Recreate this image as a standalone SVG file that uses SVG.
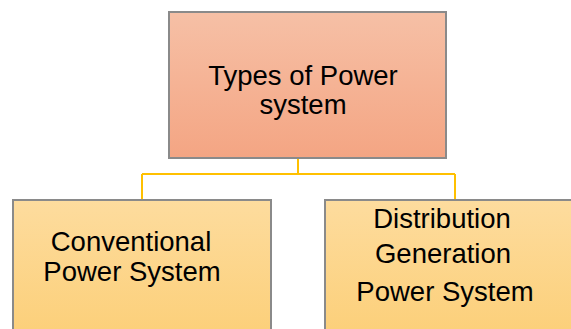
<svg xmlns="http://www.w3.org/2000/svg" width="571" height="329" viewBox="0 0 571 329">
<defs>
<linearGradient id="gTop" x1="0" y1="0" x2="0" y2="1">
<stop offset="0" stop-color="#F6C0A6"/>
<stop offset="1" stop-color="#F4A583"/>
</linearGradient>
<linearGradient id="gBot" x1="0" y1="0" x2="0" y2="1">
<stop offset="0" stop-color="#FDDC9E"/>
<stop offset="1" stop-color="#FCCF78"/>
</linearGradient>
</defs>
<style>
.box{stroke:#8a8a8a;stroke-width:2}
.t{font-family:"Liberation Sans",Arial,sans-serif;font-size:27.5px;fill:#000;text-anchor:middle}
.c{fill:none;stroke:#FFC000;stroke-width:2}
</style>
<rect width="571" height="329" fill="#fff"/>
<g id="connectors">
<path class="c" d="M298 158 V174 M142 174 H455 M142 174 V200 M455 174 V200"/>
</g>
<g id="root">
<rect class="box" x="169" y="12" width="277" height="146" fill="url(#gTop)"/>
<text class="t" x="303" y="85">Types of Power</text>
<text class="t" x="303" y="114">system</text>
</g>
<g id="conventional">
<rect class="box" x="13" y="200" width="258" height="140" fill="url(#gBot)"/>
<text class="t" x="131" y="251">Conventional</text>
<text class="t" x="132" y="281">Power System</text>
</g>
<g id="distribution">
<rect class="box" x="325" y="200" width="260" height="140" fill="url(#gBot)"/>
<text class="t" x="442" y="228">Distribution</text>
<text class="t" x="443" y="263">Generation</text>
<text class="t" x="445" y="301">Power System</text>
</g>
</svg>
